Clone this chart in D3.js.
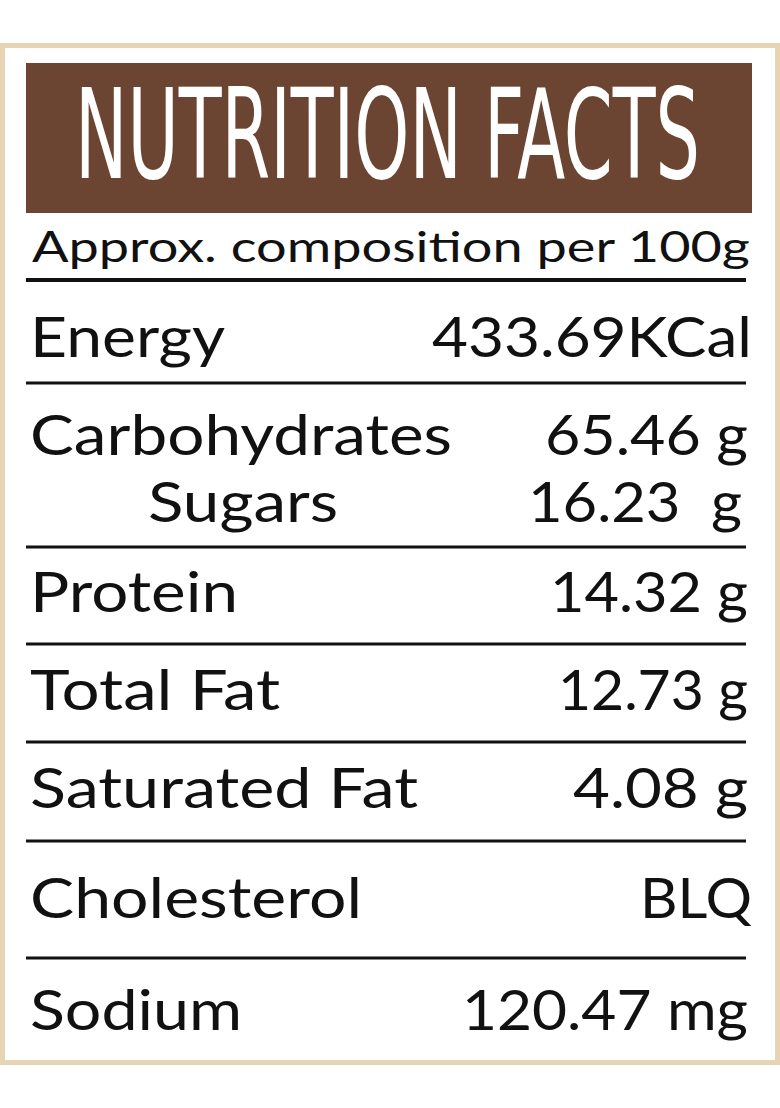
<!DOCTYPE html><html><head><meta charset="utf-8">
<script src="https://cdn.jsdelivr.net/npm/d3@7"></script>
<style>body{margin:0;background:#fff}</style></head><body>
<script>
const title = "NUTRITION FACTS";
const subtitle = "Approx. composition per 100g";
const nutrients = ["Energy","Carbohydrates","Sugars","Protein","Total Fat","Saturated Fat","Cholesterol","Sodium"];
const amounts = ["433.69KCal","65.46 g","16.23  g","14.32 g","12.73 g","4.08 g","BLQ","120.47 mg"];
const indent = [false,false,true,false,false,false,false,false];
const baselines = [357,455,522,612,710,808,918,1030];
const dividers = [280,383,547,644,742,841,958];
const nameWidths = [195,422,190,208,250,388,332,212];
const amountWidths = [320,203,214,198,190,175,112,286];

const W=780,H=1108;
const svg=d3.select("body").append("svg").attr("width",W).attr("height",H);
svg.append("rect").attr("width",W).attr("height",H).attr("fill","#fff");
svg.append("rect").attr("x",2.5).attr("y",45.5).attr("width",W-5).attr("height",1017)
  .attr("fill","#fff").attr("stroke","#e6d4b2").attr("stroke-width",5);
svg.append("rect").attr("x",26).attr("y",63).attr("width",726).attr("height",150).attr("fill","#6b4432");
svg.append("text").attr("x",75).attr("y",178).attr("font-family","Liberation Sans Narrow, DejaVu Sans Condensed, sans-serif")
  .attr("font-size",124).attr("fill","#fff").attr("textLength",625).attr("lengthAdjust","spacingAndGlyphs").text(title);
const font="Lato, 'Open Sans', sans-serif";
svg.append("text").attr("x",32).attr("y",262).attr("font-family",font).attr("font-size",42).attr("fill","#111")
  .attr("textLength",718).attr("lengthAdjust","spacingAndGlyphs").text(subtitle);
svg.selectAll("line.d").data(dividers).join("line").attr("x1",26).attr("x2",746)
  .attr("y1",d=>d).attr("y2",d=>d).attr("stroke","#111").attr("stroke-width",(d,i)=>i==0?4:3);
svg.selectAll("text.n").data(nutrients).join("text").attr("font-family",font).attr("font-size",56).attr("fill","#111")
  .attr("x",(d,i)=>indent[i]?148:30).attr("y",(d,i)=>baselines[i])
  .attr("textLength",(d,i)=>nameWidths[i]).attr("lengthAdjust","spacingAndGlyphs").text(d=>d);
svg.selectAll("text.a").data(amounts).join("text").attr("font-family",font).attr("font-size",56).attr("fill","#111")
  .attr("text-anchor","end").style("white-space","pre")
  .attr("x",(d,i)=>i==2?742:(i==0||i==6?752:748)).attr("y",(d,i)=>baselines[i])
  .attr("textLength",(d,i)=>amountWidths[i]).attr("lengthAdjust","spacingAndGlyphs").text(d=>d);
</script></body></html>
